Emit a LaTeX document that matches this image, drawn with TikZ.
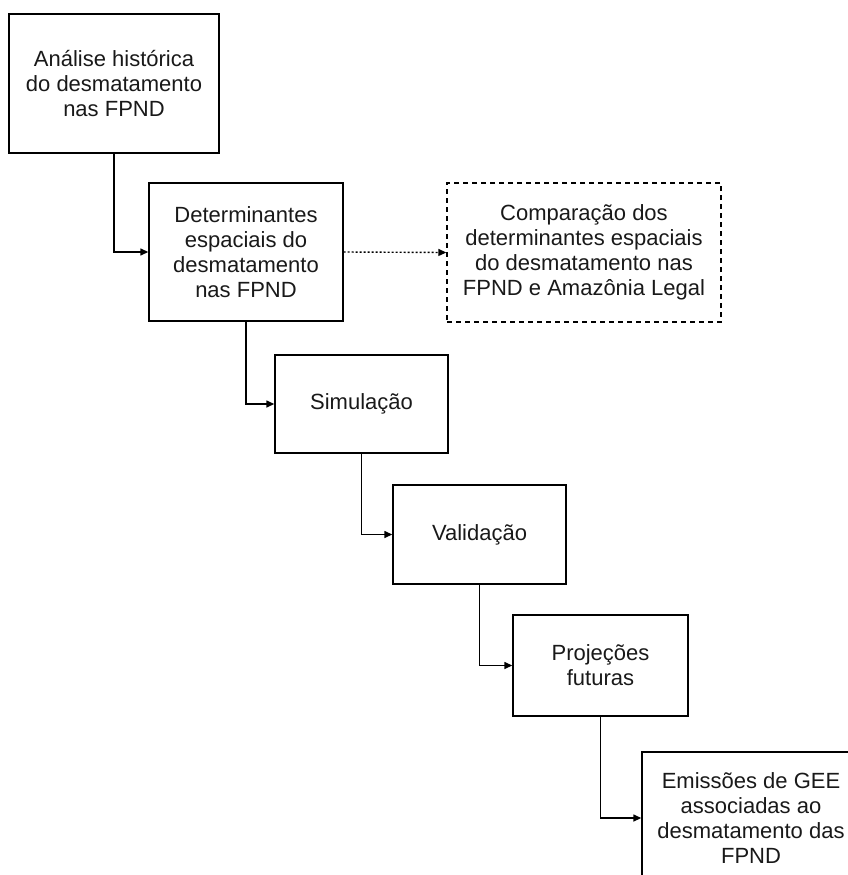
\documentclass[tikz,border=0pt]{standalone}
\usepackage{fontspec}
\setmainfont{Liberation Sans}
\usetikzlibrary{arrows.meta}

\begin{document}
\begin{tikzpicture}[x=1pt, y=-1pt,
	every node/.style={font=\fontsize{22}{25}\selectfont, align=center, inner sep=0pt, text=black!90},
	stepbox/.style={draw, line width=1.4pt, minimum width=#1},
	stepbox/.default=173pt,
	flow/.style={line width=1.4pt, -{Triangle[length=8pt,width=7pt]}}]
	\useasboundingbox (0,0) rectangle (848,875);
	\clip (0,0) rectangle (848,875);
	\node[stepbox=210pt, minimum height=139pt] (hist) at (114,83.5) {Análise histórica\\do desmatamento\\nas FPND};
	\node[stepbox=194pt, minimum height=138pt] (det) at (246,252) {Determinantes\\espaciais do\\desmatamento\\nas FPND};
	\node[stepbox=274pt, minimum height=139pt, dash pattern=on 5pt off 4pt] (comp) at (584,252.5) {Comparação dos\\determinantes espaciais\\do desmatamento nas\\FPND e Amazônia Legal};
	\node[stepbox, minimum height=98pt] (sim) at (361.5,404) {Simulação};
	\node[stepbox, minimum height=99pt] (val) at (479.5,534.5) {Validação};
	\node[stepbox=175pt, minimum height=101pt] (proj) at (600.5,665.5) {Projeções\\futuras};
	\node[stepbox=218pt, minimum height=132pt] (emis) at (751,818) {Emissões de GEE\\associadas ao\\desmatamento das\\FPND};
	\draw[flow] (hist.south) |- (det.west);
	\draw[flow, dash pattern=on 2pt off 2pt] (det.east) -- (comp.west);
	\draw[flow] (det.south) |- (sim.west);
	\draw[flow] (sim.south) |- (val.west);
	\draw[flow] (val.south) |- (proj.west);
	\draw[flow] (proj.south) |- (emis.west);
\end{tikzpicture}
\end{document}
